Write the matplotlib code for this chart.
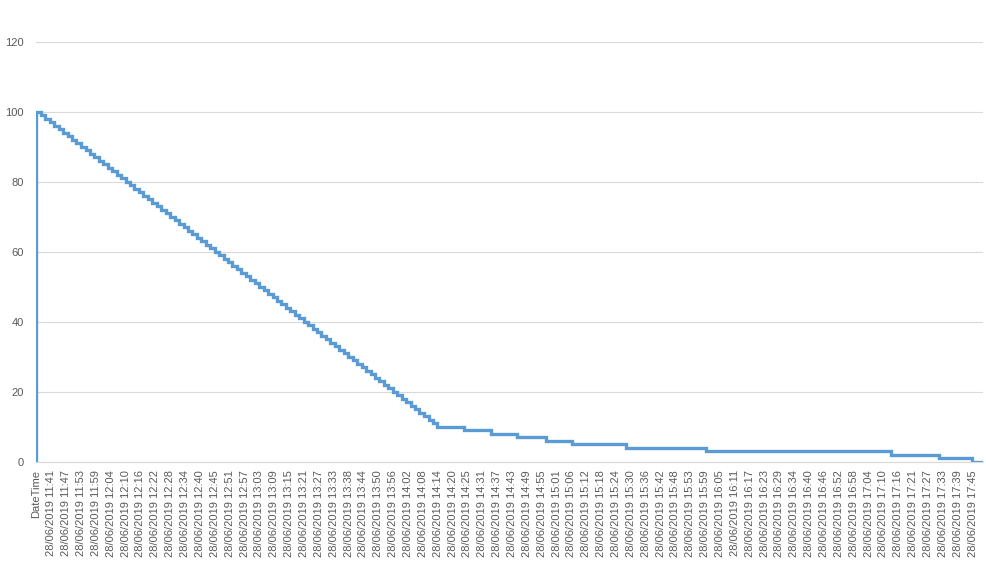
import matplotlib.pyplot as plt
import numpy as np

# tick labels on the category axis (first one is the header cell)
first_label = "DateTime"
time_labels = ["11:41", "11:47", "11:53", "11:59", "12:04", "12:10", "12:16", "12:22",
               "12:28", "12:34", "12:40", "12:45", "12:51", "12:57", "13:03", "13:09",
               "13:15", "13:21", "13:27", "13:33", "13:38", "13:44", "13:50", "13:56",
               "14:02", "14:08", "14:14", "14:20", "14:25", "14:31", "14:37", "14:43",
               "14:49", "14:55", "15:01", "15:06", "15:12", "15:18", "15:24", "15:30",
               "15:36", "15:42", "15:48", "15:53", "15:59", "16:05", "16:11", "16:17",
               "16:23", "16:29", "16:34", "16:40", "16:46", "16:52", "16:58", "17:04",
               "17:10", "17:16", "17:21", "17:27", "17:33", "17:39", "17:45"]
date_text = "28/06/2019"

# level shown and how long (minutes) it stayed there
levels = [100, 99, 98, 97, 96, 95, 94, 93, 92, 91,
          90, 89, 88, 87, 86, 85, 84, 83, 82, 81,
          80, 79, 78, 77, 76, 75, 74, 73, 72, 71,
          70, 69, 68, 67, 66, 65, 64, 63, 62, 61,
          60, 59, 58, 57, 56, 55, 54, 53, 52, 51,
          50, 49, 48, 47, 46, 45, 44, 43, 42, 41,
          40, 39, 38, 37, 36, 35, 34, 33, 32, 31,
          30, 29, 28, 27, 26, 25, 24, 23, 22, 21,
          20, 19, 18, 17, 16, 15, 14, 13, 12, 11,
          10, 9, 8, 7, 6, 5, 4, 3, 2, 1, 0]
durations = [1.8, 1.7, 1.8, 1.7, 1.8, 1.7, 1.8, 1.8, 1.7, 1.8,
             1.8, 1.7, 1.8, 1.7, 1.8, 1.7, 1.8, 1.8, 1.7, 1.8,
             1.8, 1.7, 1.8, 1.7, 1.8, 1.7, 1.8, 1.8, 1.7, 1.8,
             1.8, 1.7, 1.8, 1.7, 1.8, 1.7, 1.8, 1.8, 1.7, 1.8,
             1.8, 1.7, 1.8, 1.7, 1.8, 1.7, 1.8, 1.8, 1.7, 1.8,
             1.8, 1.7, 1.8, 1.7, 1.8, 1.7, 1.8, 1.8, 1.7, 1.8,
             1.8, 1.7, 1.8, 1.7, 1.8, 1.7, 1.8, 1.8, 1.7, 1.8,
             1.8, 1.7, 1.8, 1.7, 1.8, 1.7, 1.8, 1.8, 1.7, 1.8,
             1.8, 1.7, 1.8, 1.7, 1.8, 1.7, 1.8, 1.8, 1.7, 1.8,
             10.5, 10.6, 10.5, 11.2, 10.2, 21.7, 31.6, 73.0, 19.0, 13.0, 4.3]

# label spacing in minutes, from first and last time label
def to_min(s):
    h, m = s.split(":")
    return int(h) * 60 + int(m)

label_step = (to_min(time_labels[-1]) - to_min(time_labels[0])) / (len(time_labels) - 1)

starts = np.concatenate([[0], np.cumsum(durations)[:-1]])
end = np.sum(durations)
# header cell counts as 0, then the readings
x = np.concatenate([[0], starts, [end]])
y = np.concatenate([[0], levels, [levels[-1]]])

plt.rcParams['font.family'] = ['Liberation Sans', 'DejaVu Sans']
text_col = "#595959"
grid_col = "#D9D9D9"

fig = plt.figure(figsize=(9.86, 5.62), dpi=100)
ax = fig.add_axes([0.037, 0.178, 0.960, 0.7473])

ax.plot(x, y, drawstyle="steps-post", color="#5B9BD5", lw=2.4, solid_joinstyle="miter")

ax.set_ylim(0, 120)
ax.set_xlim(0, end)
ax.set_yticks([0, 20, 40, 60, 80, 100, 120])
ax.grid(axis="y", color=grid_col, lw=0.8)
ax.set_axisbelow(True)

ticks = np.arange(len(time_labels) + 1) * label_step
ax.set_xticks(ticks)
ax.set_xticklabels([first_label] + [date_text + " " + t for t in time_labels], rotation=90)

for s in ["top", "right", "left"]:
    ax.spines[s].set_visible(False)
ax.spines["bottom"].set_color(grid_col)
ax.spines["bottom"].set_linewidth(0.8)

ax.tick_params(axis="x", length=0, pad=6, labelsize=8, labelcolor=text_col)
ax.tick_params(axis="y", length=0, pad=9, labelsize=8, labelcolor=text_col)

fig.savefig("out.png", dpi=100)
